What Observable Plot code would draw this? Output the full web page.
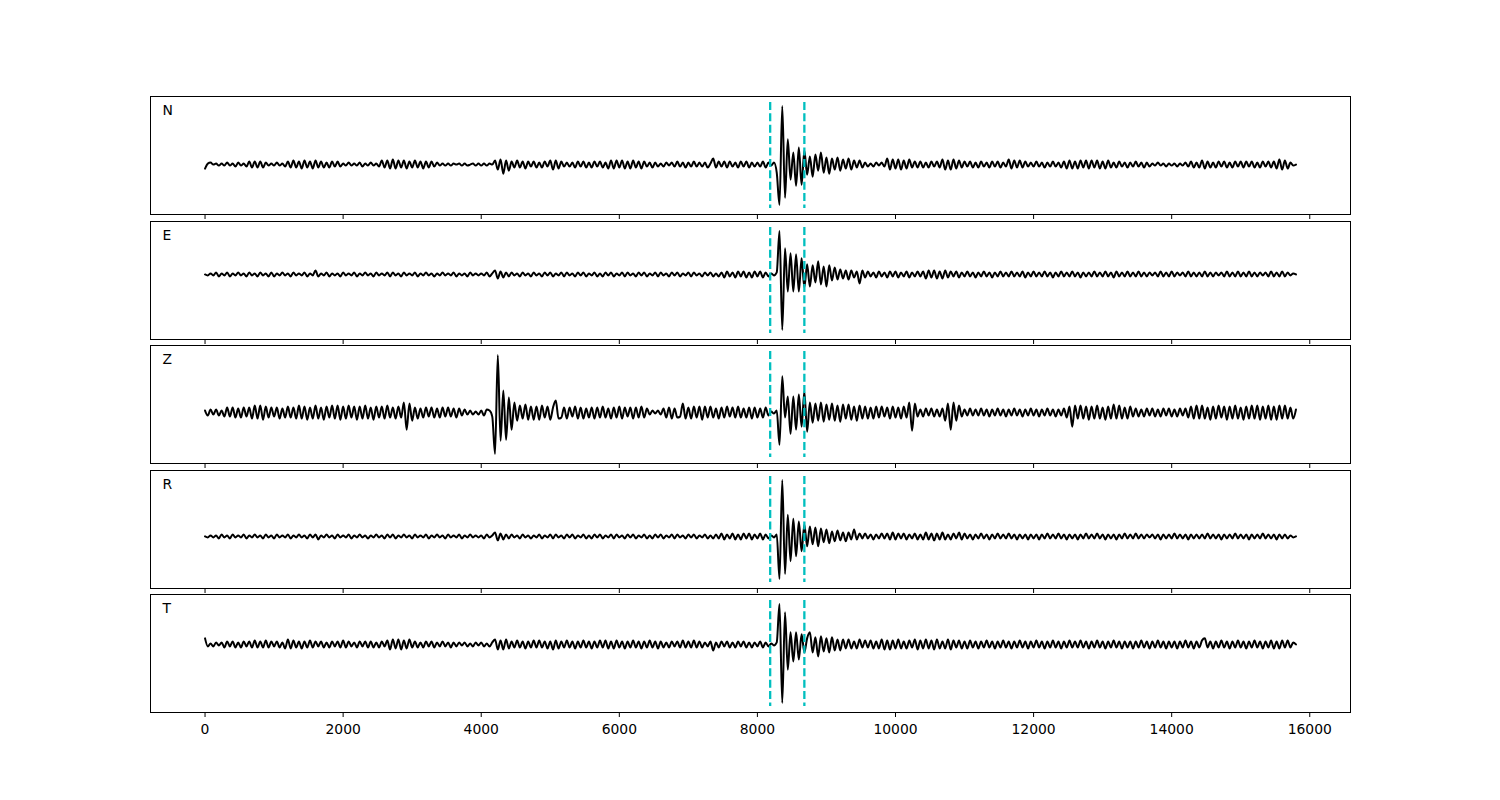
<!DOCTYPE html>
<html>
<head>
<meta charset="utf-8">
<script src="https://cdn.jsdelivr.net/npm/d3@7"></script>
<script src="https://cdn.jsdelivr.net/npm/@observablehq/plot@0.6"></script>
<style>
  body { margin: 0; background: #fff; }
  #chart { position: relative; width: 1500px; height: 800px; }
  #chart svg { position: absolute; left: 0; }
</style>
</head>
<body>
<div id="chart"></div>
<script>
// ---- data ----
const sampleStep = 40;                 // time units between samples (0 .. 15800)
const components = ["N", "E", "Z", "R", "T"];
const pickTimes = [8185, 8680];
const xTicks = [0, 2000, 4000, 6000, 8000, 10000, 12000, 14000, 16000];

const traceN = [
  -4, 1, 2, 0, 1, -1, 1, -1, 2, -1, 1, -2, 2, -1, 1, -2, 3, -3, 3, -3,
  3, -3, 2, -1, 1, -1, 2, -1, 1, -2, 3, -3, 4, -3, 3, -4, 4, -3, 3, -4,
  4, -3, 3, -3, 2, -3, 3, -2, 3, -2, 1, -1, 2, -1, 1, -1, 2, -2, 1, -1,
  2, -1, 1, -2, 4, -3, 4, -4, 5, -4, 4, -3, 4, -4, 3, -3, 4, -3, 3, -4,
  3, -3, 3, -2, 2, -1, 1, -1, 1, -1, 1, 0, 1, -1, 1, -1, 0, 1, -1, 1,
  -1, 1, -1, 1, 0, 4, -5, 5, -9, 4, -6, 3, -3, 4, -3, 3, -4, 3, -2, 3,
  -3, 2, -3, 3, -2, 4, -5, 4, -4, 3, -2, 2, -2, 2, -3, 3, -2, 3, -3, 2,
  -3, 3, -2, 3, -3, 2, -4, 4, -4, 4, -3, 4, -4, 3, -4, 4, -3, 3, -4, 3,
  -2, 2, -3, 2, -2, 1, -2, 2, -1, 2, -2, 3, -2, 2, -3, 2, -2, 3, -2, 2,
  -2, 2, -3, 1, 6, -3, 3, -2, 3, -3, 3, -2, 2, -3, 3, -2, 3, -3, 2, -2,
  2, -2, 3, -3, 2, -1, 2, -8, -40, 58, -33, 25, -15, 12, -21, 17, -20, 14, -10, 8,
  -12, 10, -6, 12, -8, 7, -9, 6, -5, 7, -6, 5, -4, 6, -5, 4, -3, 4, -3, 2,
  -2, 1, -2, 2, -1, 2, -2, 6, -5, 5, -4, 5, -5, 4, -4, 5, -3, 3, -3, 3,
  -3, 2, -3, 3, -2, 3, -3, 5, -5, 4, -5, 5, -4, 4, -3, 3, -2, 3, -3, 2,
  -3, 3, -2, 2, -3, 3, -2, 3, -3, 2, -2, 5, -4, 4, -3, 4, -3, 3, -2, 2,
  -2, 3, -2, 2, -3, 2, -2, 3, -2, 2, -3, 3, -4, 4, -4, 3, -4, 4, -3, 4,
  -4, 4, -3, 4, -4, 3, -4, 4, -3, 2, -3, 3, -2, 2, -3, 2, -2, 3, -2, 2,
  -3, 2, -2, 1, -1, 2, -1, 1, -2, 1, -1, 1, -2, 1, -1, 2, -2, 3, -3, 2,
  -3, 4, -4, 3, -3, 2, -3, 3, -2, 3, -3, 2, -3, 3, -2, 3, -3, 3, -2, 3,
  -3, 2, -3, 3, -2, 3, -3, 3, -4, 5, -5, 4, -4, 2, -1, 0
];

const traceE = [
  0, -1, 1, -1, 2, -2, 1, -1, 2, -2, 1, -1, 2, -1, 1, -2, 2, -1, 1, -2,
  2, -1, 1, -2, 2, -2, 1, -1, 2, -1, 1, -2, 2, -1, 1, -1, 2, -2, 1, -1,
  4, -2, 1, -1, 2, -2, 1, -1, 1, -2, 2, -1, 1, -1, 2, -2, 1, -1, 2, -1,
  1, -2, 2, -1, 1, -1, 2, -2, 2, -1, 1, -2, 2, -1, 1, -1, 2, -2, 1, -1,
  2, -1, 1, -2, 1, -1, 2, -1, 1, -1, 2, -2, 1, -1, 1, -2, 2, -1, 1, -1,
  1, -1, 2, -2, 1, 4, -4, 3, -3, 2, -2, 2, -1, 1, -2, 2, -1, 1, -2, 2,
  -1, 1, -2, 2, -1, 2, -2, 1, -1, 2, -2, 2, -1, 1, -2, 2, -1, 2, -2, 1,
  -1, 2, -2, 1, -2, 2, -1, 2, -2, 1, -1, 2, -2, 2, -1, 1, -2, 2, -1, 2,
  -2, 1, -1, 2, -2, 2, -1, 1, -2, 2, -1, 2, -2, 1, -1, 2, -2, 2, -1, 1,
  -2, 2, -1, 2, -2, 1, -2, 2, -3, 3, -2, 2, -3, 3, -2, 3, -3, 2, -3, 3,
  -2, 3, -3, 2, -2, 1, -1, 2, 43, -55, 26, -17, 21, -17, 20, -17, 16, -13, 10, -12,
  9, -8, 13, -10, 8, -12, 9, -6, 7, -5, 5, -4, 4, -5, 4, -3, 3, -9, 4, -3,
  3, -2, 2, -3, 3, -2, 2, -3, 3, -2, 3, -3, 2, -2, 3, -3, 2, -2, 3, -2,
  3, -4, 4, -3, 4, -4, 3, -4, 4, -3, 3, -2, 3, -3, 2, -2, 3, -2, 2, -3,
  2, -2, 3, -2, 2, -3, 2, -2, 3, -2, 2, -2, 3, -2, 2, -2, 3, -3, 2, -2,
  3, -2, 2, -2, 3, -2, 2, -3, 2, -2, 3, -2, 2, -2, 3, -2, 2, -3, 2, -2,
  2, -2, 3, -2, 2, -2, 3, -2, 2, -3, 3, -2, 2, -2, 3, -2, 2, -2, 3, -2,
  2, -2, 2, -1, 2, -2, 3, -2, 2, -2, 3, -2, 2, -1, 2, -2, 3, -2, 2, -2,
  2, -2, 3, -2, 2, -2, 2, -1, 2, -2, 3, -2, 2, -2, 3, -2, 2, -2, 3, -2,
  2, -2, 2, -1, 2, -2, 3, -2, 2, -2, 3, -2, 2, -1, 1, 0
];

const traceZ = [
  2, -3, 3, -2, 3, -3, 2, -4, 5, -4, 5, -5, 4, -5, 5, -4, 5, -6, 7, -6,
  7, -7, 6, -5, 5, -4, 5, -6, 4, -5, 6, -5, 5, -6, 7, -6, 6, -7, 5, -6,
  7, -6, 5, -7, 6, -5, 7, -6, 7, -7, 6, -6, 7, -5, 6, -7, 6, -6, 7, -6,
  5, -7, 6, -5, 6, -6, 7, -5, 5, -6, 6, -5, 10, -17, 9, -8, 5, -6, 4, -5,
  5, -4, 5, -5, 4, -5, 5, -4, 5, -4, 4, -5, 4, -3, 3, -2, 2, -2, 1, -2,
  2, -3, 3, 2, -4, -41, 57, -28, 22, -27, 15, -17, 10, -8, 7, -6, 8, -7, 6, -7,
  6, -7, 7, -5, 6, -7, 5, 12, -6, -5, 5, -6, 5, -4, 6, -6, 5, -6, 4, -5,
  5, -6, 5, -5, 6, -5, 4, -6, 5, -5, 6, -6, 5, -4, 5, -6, 5, -5, 6, -5,
  4, -2, 2, -1, 2, -2, 4, -5, 5, -6, 4, -5, -4, 9, -6, 5, -6, 6, -5, 6,
  -7, 6, -5, 6, -5, 4, -6, 5, -5, 6, -4, 5, -5, 6, -5, 4, -5, 5, -6, 5,
  -5, 4, -5, 5, -3, 1, -1, 2, -32, 36, -5, 16, -21, 16, -17, 18, -14, 21, -19, 10,
  -10, 9, -8, 10, -9, 8, -7, 9, -8, 7, -9, 8, -6, 8, -7, 6, -8, 7, -6, 6,
  -6, 5, -6, 6, -5, 6, -4, 5, -6, 6, -5, 5, -6, 6, -5, 10, -18, 9, -4, 3,
  -4, 4, -3, 4, -4, 3, -4, 4, -8, 9, -17, 10, -8, 7, -4, 3, -3, 4, -3, 3,
  -3, 4, -3, 3, -4, 3, -3, 4, -3, 3, -4, 3, -3, 4, -3, 3, -4, 3, -3, 4,
  -3, 3, -4, 3, -3, 4, -3, 3, -4, 3, -3, 4, -5, 6, -14, 7, -6, 7, -6, 6,
  -7, 6, -6, 7, -6, 5, -7, 6, -6, 8, -6, 7, -6, 5, -6, 6, -4, 4, -4, 3,
  -4, 4, -3, 4, -4, 3, -4, 4, -3, 4, -4, 3, -4, 4, -3, 4, -5, 6, -6, 7,
  -6, 7, -6, 5, -7, 6, -6, 7, -5, 6, -7, 6, -6, 7, -6, 5, -7, 6, -6, 7,
  -6, 7, -7, 6, -6, 7, -7, 6, -7, 7, -6, 7, -6, 5, -6, 3
];

const traceR = [
  0, -1, 1, -1, 1, -2, 2, -1, 1, -2, 2, -1, 1, -1, 2, -2, 1, -1, 2, -1,
  1, -2, 2, -1, 1, -2, 2, -1, 1, -1, 2, -2, 1, -1, 2, -1, 1, -2, 2, -1,
  2, -3, 1, -1, 2, -1, 1, -2, 2, -1, 1, -1, 2, -2, 1, -1, 2, -1, 1, -2,
  1, -1, 2, -1, 1, -2, 2, -1, 2, -2, 1, -1, 2, -1, 1, -2, 2, -1, 1, -1,
  2, -2, 1, -1, 2, -1, 1, -2, 2, -1, 1, -1, 2, -2, 1, -1, 2, -1, 1, -1,
  1, -2, 2, -1, 1, 4, -4, 3, -3, 2, -2, 2, -1, 1, -2, 2, -1, 1, -2, 1,
  -1, 2, -2, 1, -1, 2, -2, 2, -1, 1, -2, 2, -1, 2, -2, 1, -1, 2, -2, 1,
  -2, 2, -1, 2, -2, 1, -1, 2, -2, 2, -1, 1, -2, 2, -1, 2, -2, 1, -1, 2,
  -2, 1, -2, 2, -1, 2, -2, 1, -1, 2, -2, 2, -1, 1, -2, 2, -1, 2, -2, 1,
  -1, 2, -2, 1, -2, 2, -2, 3, -3, 2, -2, 3, -3, 2, -3, 3, -2, 3, -3, 2,
  -2, 3, -3, 2, -2, 1, -1, 2, -43, 57, -38, 22, -25, 18, -20, 15, -15, 12, -10, 10,
  -8, 9, -10, 8, -6, 7, -7, 5, -5, 6, -4, 4, -5, 4, -3, 7, -3, 3, -2, 3,
  -2, 2, -3, 2, -2, 3, -2, 3, -3, 4, -3, 3, -2, 3, -3, 2, -2, 3, -3, 2,
  -3, 4, -3, 3, -4, 3, -3, 4, -3, 2, -3, 3, -2, 4, -3, 3, -2, 2, -3, 2,
  -2, 3, -2, 2, -3, 2, -2, 3, -2, 2, -2, 3, -2, 2, -3, 2, -2, 2, -3, 2,
  -2, 2, -3, 2, -2, 3, -2, 2, -2, 3, -2, 2, -3, 2, -2, 2, -3, 2, -2, 3,
  -2, 2, -2, 3, -2, 2, -3, 2, -2, 2, -3, 2, -2, 3, -2, 2, -2, 3, -2, 2,
  -2, 2, -1, 2, -2, 2, -3, 2, -2, 2, -2, 3, -2, 2, -2, 2, -3, 2, -2, 2,
  -2, 2, -2, 3, -2, 2, -2, 2, -3, 2, -2, 2, -2, 3, -2, 2, -2, 2, -3, 2,
  -2, 2, -2, 3, -2, 2, -2, 2, -3, 2, -2, 2, -2, 1, -1, 0
];

const traceT = [
  6, -2, 1, -2, 2, -1, 2, -3, 3, -2, 3, -3, 2, -3, 3, -2, 3, -3, 4, -3,
  3, -3, 4, -3, 3, -2, 3, -3, 2, -4, 5, -4, 4, -3, 3, -4, 3, -3, 4, -3,
  3, -2, 3, -3, 2, -3, 3, -2, 3, -3, 4, -3, 3, -2, 2, -3, 3, -2, 3, -3,
  3, -3, 2, -3, 3, -2, 4, -5, 5, -4, 5, -5, 4, -4, 5, -3, 3, -3, 2, -3,
  3, -2, 3, -3, 2, -2, 3, -2, 2, -3, 2, -2, 2, -1, 2, -2, 1, -2, 2, -1,
  2, -2, 1, -2, 2, 5, -5, 4, -5, 5, -4, 3, -3, 4, -3, 3, -4, 3, -3, 4,
  -3, 4, -3, 3, -4, 3, -5, 4, -4, 3, -3, 4, -3, 3, -4, 3, -3, 4, -3, 3,
  -4, 3, -3, 4, -3, 4, -4, 3, -4, 4, -3, 3, -4, 3, -3, 4, -3, 3, -4, 3,
  -3, 4, -3, 3, -4, 3, -3, 2, -3, 3, -2, 3, -3, 4, -3, 3, -3, 4, -3, 3,
  -3, 2, -2, 3, -6, 2, -3, 3, -2, 3, -3, 2, -3, 3, -2, 3, -3, 2, -3, 2,
  -2, 3, -3, 2, -2, 1, -1, 2, 40, -58, 32, -25, 12, -17, 12, -15, 10, -8, 6, 12,
  -8, 7, -12, 8, -7, 6, -8, 7, -6, 5, -6, 5, -4, 5, -4, 3, -4, 5, -3, 4,
  -3, 4, -4, 3, -4, 5, -5, 4, -5, 4, -4, 5, -4, 3, -4, 4, -3, 5, -5, 4,
  -4, 5, -4, 4, -5, 5, -4, 3, -4, 5, -5, 4, -3, 4, -4, 3, -4, 4, -3, 3,
  -4, 3, -3, 4, -3, 3, -4, 3, -3, 4, -3, 3, -4, 3, -3, 4, -3, 3, -4, 3,
  -3, 4, -3, 3, -4, 3, -3, 4, -3, 3, -4, 3, -3, 4, -3, 3, -3, 4, -3, 3,
  -4, 3, -3, 4, -3, 3, -4, 3, -3, 4, -3, 3, -4, 3, -3, 3, -4, 3, -3, 4,
  -3, 3, -4, 3, -3, 4, -3, 3, -4, 3, -3, 3, -4, 3, -3, 4, -3, 3, -4, 3,
  -3, 4, 6, -3, 3, -4, 3, -3, 4, -3, 3, -4, 3, -3, 4, -3, 3, -4, 3, -3,
  4, -3, 3, -4, 3, -3, 4, -4, 3, -4, 4, -3, 4, -3, 2, 0
];

const traces = [traceN, traceE, traceZ, traceR, traceT];

// ---- layout ----
const panelTop = 96, panelH = 118, panelGap = 6.5;
const chart = document.getElementById("chart");

components.forEach((comp, i) => {
  const vals = traces[i];
  const rows = vals.map((v, j) => ({t: j * sampleStep, v}));
  const [mn, mx] = d3.extent(vals);
  const pad = 0.097 * (mx - mn);
  const last = i === components.length - 1;
  const mb = last ? 60 : 10;
  const svg = Plot.plot({
    width: 1500,
    height: panelH + mb,
    marginTop: 0,
    marginBottom: mb,
    marginLeft: 150,
    marginRight: 150,
    style: {background: "transparent", overflow: "visible", fontFamily: "'DejaVu Sans', sans-serif", fontSize: "13.9px", color: "black"},
    x: {domain: [-790, 16590], ticks: xTicks, tickSize: 5, tickPadding: 7,
        tickFormat: last ? (d => String(d)) : (() => ""), label: null},
    y: {domain: [mn - pad, mx + pad], axis: null},
    marks: [
      Plot.line(rows, {x: "t", y: "v", stroke: "black", strokeWidth: 2, curve: "monotone-x"}),
      Plot.ruleX(pickTimes, {stroke: "#00bfbf", strokeWidth: 2.3, strokeDasharray: "8,3.4", insetTop: 5.9, insetBottom: 5.9}),
      Plot.frame({stroke: "black", strokeWidth: 1}),
      Plot.text([comp], {frameAnchor: "top-left", dx: 12, dy: 9, text: d => d, textAnchor: "start", lineAnchor: "top", fontSize: 13.9, fill: "black"})
    ]
  });
  svg.style.top = (panelTop + i * (panelH + panelGap)) + "px";
  chart.append(svg);
});
</script>
</body>
</html>
